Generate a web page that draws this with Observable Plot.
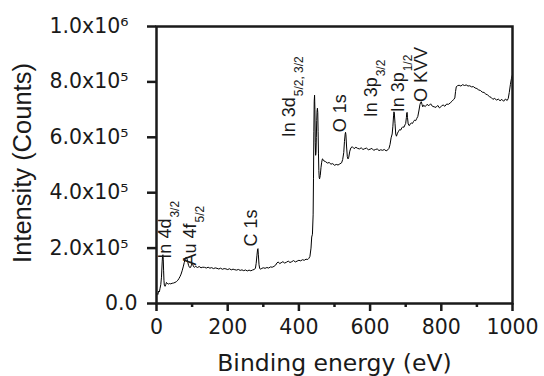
<!DOCTYPE html>
<html><head><meta charset="utf-8">
<script src="https://cdn.jsdelivr.net/npm/d3@7"></script>
<script src="https://cdn.jsdelivr.net/npm/@observablehq/plot@0.6"></script>
<style>body{margin:0;background:#fff;}</style>
</head><body><div id="chart"></div>
<script>
// Binding energy (eV)
const energy = [
  0,2,4,6,8,10,12,14,16,17,18,19,20,21,22,24,26,28,30,
  33,36,40,44,48,52,56,60,63,66,69,72,75,78,80,82,84,86,88,90,92,94,96,98,100,102,104,107,
  110,115,120,125,130,135,140,145,150,155,160,165,170,175,180,185,190,195,200,205,210,215,220,225,230,235,240,245,250,255,260,265,270,275,
  278,280,282,284,285,286,288,290,293,296,
  300,305,310,315,320,325,330,335,338,342,346,350,355,360,365,370,375,380,385,390,395,400,405,410,415,420,425,428,431,
  434,436,438,440,441,442,443,444,445,446,447,448,449,450,451,452,453,454,455,456,457,458,460,462,464,466,468,470,
  475,480,485,490,495,500,505,510,515,520,523,526,528,530,531,532,534,536,538,540,543,
  546,550,555,560,565,570,575,580,585,590,595,600,605,610,615,620,625,630,635,640,645,650,653,656,
  659,662,664,666,667,668,670,672,674,677,680,683,686,689,692,695,698,700,
  702,703,704,705,707,710,713,716,719,722,725,728,731,734,737,740,742,
  744,746,748,750,755,760,765,770,775,780,785,790,795,800,805,810,815,820,825,830,835,
  838,840,842,845,850,855,860,865,870,875,880,885,890,895,900,
  905,910,915,920,925,930,935,940,945,950,955,960,965,970,975,980,985,988,991,994,997,1000
];
// Intensity (Counts)
const counts = [
  28000,36000,33000,45000,42000,55000,68000,95000,150000,172000,176000,160000,118000,82000,66000,62000,68000,76000,73000,
  70000,72000,71000,73000,74000,76000,79000,84000,90000,97000,106000,118000,132000,148000,158000,165000,168000,160000,148000,138000,132000,129000,131000,138000,146000,140000,133000,131000,
  134000,130000,133500,129000,131000,130500,128000,131000,127500,129500,126000,128500,127000,124500,127500,123500,126000,125000,122500,125500,121500,124000,122000,120500,123000,119500,121500,118500,121000,117500,120500,118000,121000,123000,
  128000,145000,172000,196000,198000,178000,140000,126000,124000,127000,
  129000,127000,130000,128000,132000,131000,134000,139000,146000,150000,144000,147000,151000,146000,149000,153000,148000,151000,155000,150000,153000,156000,154000,158000,156000,160000,159000,163000,170000,
  200000,240000,250000,320000,450000,620000,730000,752000,700000,580000,535000,545000,600000,660000,695000,705000,690000,620000,540000,480000,455000,450000,462000,490000,510000,522000,520000,515000,
  512000,507000,509000,503000,505000,499000,502000,500000,504000,508000,520000,545000,585000,612000,618000,610000,565000,530000,522000,528000,550000,
  562000,566000,559000,564000,560000,558000,562000,556000,559000,561000,555000,557000,560000,553000,556000,558000,552000,555000,553000,556000,551000,555000,560000,574000,
  598000,612000,640000,680000,692000,688000,650000,612000,604000,615000,622000,628000,626000,634000,638000,636000,645000,650000,
  672000,688000,690000,672000,648000,642000,648000,652000,650000,657000,662000,660000,668000,675000,695000,718000,726000,
  728000,718000,710000,716000,711000,719000,714000,721000,712000,710000,708000,715000,706000,712000,717000,712000,720000,719000,724000,730000,737000,
  742000,765000,782000,786000,788000,785000,790000,787000,789000,785000,786000,782000,783000,778000,776000,
  771000,769000,763000,762000,756000,753000,747000,744000,737000,741000,734000,738000,732000,737000,730000,738000,733000,740000,762000,790000,812000,826000
];

const xTicks = [0, 200, 400, 600, 800, 1000];
const xMinorTicks = [100, 300, 500, 700, 900];
const yTicks = [0, 200000, 400000, 600000, 800000, 1000000];
const yTickLabels = ["0.0", "2.0x10\u2075", "4.0x10\u2075", "6.0x10\u2075", "8.0x10\u2075", "1.0x10\u2076"];

const peakNames = ["In 4d", "Au 4f", "C 1s", "In 3d", "O 1s", "In 3p", "In 3p", "O KVV"];
const peakSubs  = ["3/2", "5/2", "", "5/2, 3/2", "", "3/2", "1/2", ""];
const peakX     = [24, 95, 265, 374, 516, 604, 678, 744];
const peakY     = [162000, 137000, 206000, 600000, 618000, 672000, 690000, 727000];

const xTitle = "Binding energy (eV)";
const yTitle = "Intensity (Counts)";

const spectrum = energy.map((e, i) => ({e, c: counts[i]}));
const ink = "#1a1a1a";

const chart = Plot.plot({
  width: 544, height: 376,
  marginLeft: 156, marginRight: 32, marginTop: 26, marginBottom: 73,
  x: {domain: [0, 1000]},
  y: {domain: [0, 1000000]},
  style: {fontFamily: "'DejaVu Sans', sans-serif", fontSize: "20.5px", color: ink, background: "#fff"},
  marks: [
    Plot.line(spectrum, {x: "e", y: "c", stroke: "#000", strokeWidth: 1}),
    Plot.frame({stroke: ink, strokeWidth: 2.5}),
    Plot.axisX({ticks: xTicks, tickSize: 8, tickPadding: 8, strokeWidth: 2.5, label: null, tickFormat: d => String(d)}),
    Plot.axisX({ticks: xMinorTicks, tickSize: 4, strokeWidth: 2.5, label: null, tickFormat: () => ""}),
    Plot.axisY({ticks: yTicks.slice(0, 1), tickSize: 9, tickPadding: 10, strokeWidth: 2.5, label: null,
      tickFormat: d => yTickLabels[yTicks.indexOf(d)]}),
    Plot.axisY({ticks: yTicks.slice(1), tickSize: 9, tickPadding: 19, strokeWidth: 2.5, label: null,
      tickFormat: d => yTickLabels[yTicks.indexOf(d)]}),
    Plot.text([xTitle], {frameAnchor: "bottom", lineAnchor: "middle", textAnchor: "middle", dy: 60, fontSize: 23.5, fill: ink}),
    Plot.text([yTitle], {frameAnchor: "left", lineAnchor: "middle", textAnchor: "middle", dx: -134, dy: -2, rotate: -90, fontSize: 25.5,
      fontFamily: "'Liberation Sans', Arial, sans-serif", fill: ink}),
    Plot.text(peakNames, {x: (d, i) => peakX[i], y: (d, i) => peakY[i], text: d => d,
      rotate: -90, textAnchor: "start", lineAnchor: "middle", fontSize: 18, fontFamily: "'Liberation Sans', Arial, sans-serif",
      fill: ink})
  ]
});
document.getElementById("chart").appendChild(chart);

// subscripts on the peak labels (matched in data order)
const svgRoot = chart.tagName.toLowerCase() === "svg" ? chart : chart.querySelector("svg");
let k = 0;
svgRoot.querySelectorAll("text").forEach(t => {
  if (k < peakNames.length && t.textContent === peakNames[k]) {
    if (peakSubs[k]) {
      const ts = document.createElementNS("http://www.w3.org/2000/svg", "tspan");
      ts.setAttribute("font-size", "12");
      ts.setAttribute("dy", "8");
      ts.setAttribute("dx", "1");
      ts.textContent = peakSubs[k];
      t.appendChild(ts);
    }
    k++;
  }
});
</script>
</body></html>
